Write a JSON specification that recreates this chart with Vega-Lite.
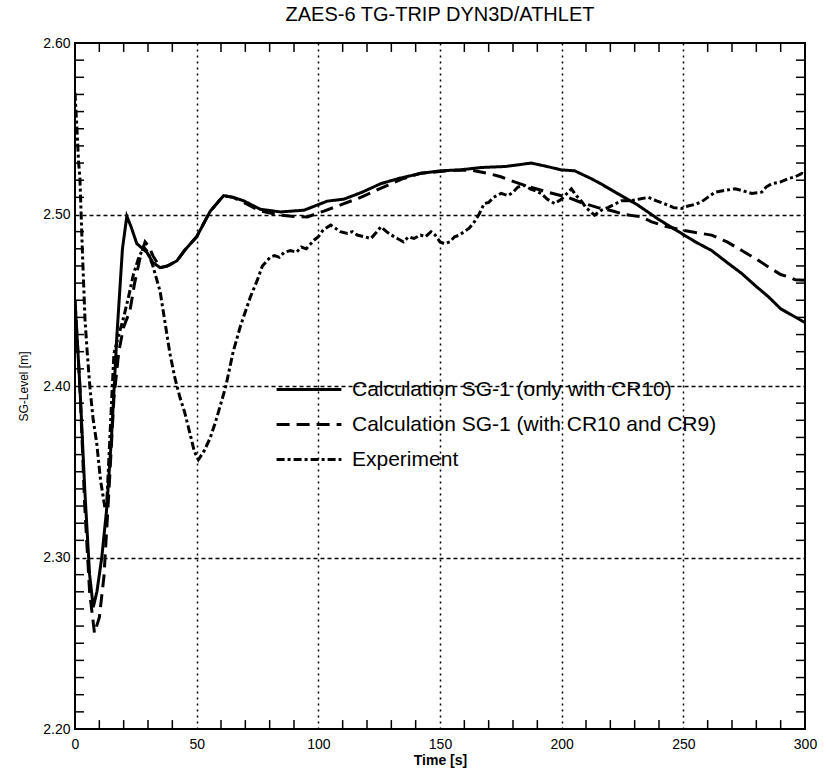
{
  "$schema": "https://vega.github.io/schema/vega-lite/v6.json",
  "autosize": "none",
  "width": 730,
  "height": 686,
  "padding": {"left": 75, "top": 43, "right": 21, "bottom": 47},
  "background": "white",
  "title": {"text": "ZAES-6  TG-TRIP  DYN3D/ATHLET", "fontSize": 20, "fontWeight": "normal", "font": "Liberation Sans", "color": "black", "anchor": "middle", "offset": 11},
  "config": {
    "view": {"stroke": "black", "strokeWidth": 2},
    "axis": {"labelFont": "Liberation Sans", "titleFont": "Liberation Sans", "labelColor": "black", "titleColor": "black", "tickColor": "black", "domainColor": "black", "labelOverlap": false, "labelFlush": false}
  },
  "layer": [
    {
      "data": {"values": [
    {"s": "Calculation SG-1 (only with CR10)", "t": 0, "v": 2.45},
    {"s": "Calculation SG-1 (only with CR10)", "t": 2, "v": 2.40},
    {"s": "Calculation SG-1 (only with CR10)", "t": 4, "v": 2.34},
    {"s": "Calculation SG-1 (only with CR10)", "t": 6, "v": 2.29},
    {"s": "Calculation SG-1 (only with CR10)", "t": 7.5, "v": 2.271},
    {"s": "Calculation SG-1 (only with CR10)", "t": 9, "v": 2.28},
    {"s": "Calculation SG-1 (only with CR10)", "t": 11, "v": 2.30},
    {"s": "Calculation SG-1 (only with CR10)", "t": 13, "v": 2.328},
    {"s": "Calculation SG-1 (only with CR10)", "t": 15, "v": 2.37},
    {"s": "Calculation SG-1 (only with CR10)", "t": 17.2, "v": 2.429},
    {"s": "Calculation SG-1 (only with CR10)", "t": 19.5, "v": 2.48},
    {"s": "Calculation SG-1 (only with CR10)", "t": 21.3, "v": 2.499},
    {"s": "Calculation SG-1 (only with CR10)", "t": 23, "v": 2.493},
    {"s": "Calculation SG-1 (only with CR10)", "t": 25.4, "v": 2.483},
    {"s": "Calculation SG-1 (only with CR10)", "t": 29.5, "v": 2.478},
    {"s": "Calculation SG-1 (only with CR10)", "t": 32, "v": 2.472},
    {"s": "Calculation SG-1 (only with CR10)", "t": 35, "v": 2.469},
    {"s": "Calculation SG-1 (only with CR10)", "t": 38, "v": 2.470},
    {"s": "Calculation SG-1 (only with CR10)", "t": 41.9, "v": 2.473},
    {"s": "Calculation SG-1 (only with CR10)", "t": 45, "v": 2.479},
    {"s": "Calculation SG-1 (only with CR10)", "t": 50, "v": 2.487},
    {"s": "Calculation SG-1 (only with CR10)", "t": 55.6, "v": 2.502},
    {"s": "Calculation SG-1 (only with CR10)", "t": 61.1, "v": 2.511},
    {"s": "Calculation SG-1 (only with CR10)", "t": 65, "v": 2.510},
    {"s": "Calculation SG-1 (only with CR10)", "t": 69.3, "v": 2.508},
    {"s": "Calculation SG-1 (only with CR10)", "t": 76.2, "v": 2.503},
    {"s": "Calculation SG-1 (only with CR10)", "t": 84.5, "v": 2.5015},
    {"s": "Calculation SG-1 (only with CR10)", "t": 94.1, "v": 2.5025},
    {"s": "Calculation SG-1 (only with CR10)", "t": 103.7, "v": 2.5078},
    {"s": "Calculation SG-1 (only with CR10)", "t": 110.6, "v": 2.509},
    {"s": "Calculation SG-1 (only with CR10)", "t": 118, "v": 2.513},
    {"s": "Calculation SG-1 (only with CR10)", "t": 125.7, "v": 2.518},
    {"s": "Calculation SG-1 (only with CR10)", "t": 133, "v": 2.521},
    {"s": "Calculation SG-1 (only with CR10)", "t": 142.2, "v": 2.524},
    {"s": "Calculation SG-1 (only with CR10)", "t": 150.4, "v": 2.5255},
    {"s": "Calculation SG-1 (only with CR10)", "t": 158, "v": 2.526},
    {"s": "Calculation SG-1 (only with CR10)", "t": 166.9, "v": 2.5274},
    {"s": "Calculation SG-1 (only with CR10)", "t": 177, "v": 2.528},
    {"s": "Calculation SG-1 (only with CR10)", "t": 187.5, "v": 2.530},
    {"s": "Calculation SG-1 (only with CR10)", "t": 194, "v": 2.528},
    {"s": "Calculation SG-1 (only with CR10)", "t": 199.8, "v": 2.526},
    {"s": "Calculation SG-1 (only with CR10)", "t": 205.3, "v": 2.5255},
    {"s": "Calculation SG-1 (only with CR10)", "t": 212, "v": 2.521},
    {"s": "Calculation SG-1 (only with CR10)", "t": 216, "v": 2.518},
    {"s": "Calculation SG-1 (only with CR10)", "t": 222, "v": 2.513},
    {"s": "Calculation SG-1 (only with CR10)", "t": 231.4, "v": 2.5054},
    {"s": "Calculation SG-1 (only with CR10)", "t": 240, "v": 2.497},
    {"s": "Calculation SG-1 (only with CR10)", "t": 249.3, "v": 2.4889},
    {"s": "Calculation SG-1 (only with CR10)", "t": 255, "v": 2.484},
    {"s": "Calculation SG-1 (only with CR10)", "t": 261.6, "v": 2.479},
    {"s": "Calculation SG-1 (only with CR10)", "t": 268, "v": 2.472},
    {"s": "Calculation SG-1 (only with CR10)", "t": 274, "v": 2.4656},
    {"s": "Calculation SG-1 (only with CR10)", "t": 280, "v": 2.458},
    {"s": "Calculation SG-1 (only with CR10)", "t": 285, "v": 2.452},
    {"s": "Calculation SG-1 (only with CR10)", "t": 290, "v": 2.445},
    {"s": "Calculation SG-1 (only with CR10)", "t": 295, "v": 2.441},
    {"s": "Calculation SG-1 (only with CR10)", "t": 300, "v": 2.437},

    {"s": "Calculation SG-1 (with CR10 and CR9)", "t": 0, "v": 2.45},
    {"s": "Calculation SG-1 (with CR10 and CR9)", "t": 2, "v": 2.40},
    {"s": "Calculation SG-1 (with CR10 and CR9)", "t": 4, "v": 2.33},
    {"s": "Calculation SG-1 (with CR10 and CR9)", "t": 6, "v": 2.28},
    {"s": "Calculation SG-1 (with CR10 and CR9)", "t": 8, "v": 2.256},
    {"s": "Calculation SG-1 (with CR10 and CR9)", "t": 10, "v": 2.265},
    {"s": "Calculation SG-1 (with CR10 and CR9)", "t": 11.9, "v": 2.289},
    {"s": "Calculation SG-1 (with CR10 and CR9)", "t": 14, "v": 2.34},
    {"s": "Calculation SG-1 (with CR10 and CR9)", "t": 16, "v": 2.393},
    {"s": "Calculation SG-1 (with CR10 and CR9)", "t": 18, "v": 2.42},
    {"s": "Calculation SG-1 (with CR10 and CR9)", "t": 19.9, "v": 2.434},
    {"s": "Calculation SG-1 (with CR10 and CR9)", "t": 22.6, "v": 2.444},
    {"s": "Calculation SG-1 (with CR10 and CR9)", "t": 24.5, "v": 2.46},
    {"s": "Calculation SG-1 (with CR10 and CR9)", "t": 26.8, "v": 2.475},
    {"s": "Calculation SG-1 (with CR10 and CR9)", "t": 28.8, "v": 2.484},
    {"s": "Calculation SG-1 (with CR10 and CR9)", "t": 30.5, "v": 2.481},
    {"s": "Calculation SG-1 (with CR10 and CR9)", "t": 32, "v": 2.476},
    {"s": "Calculation SG-1 (with CR10 and CR9)", "t": 35, "v": 2.469},
    {"s": "Calculation SG-1 (with CR10 and CR9)", "t": 38, "v": 2.470},
    {"s": "Calculation SG-1 (with CR10 and CR9)", "t": 41.9, "v": 2.473},
    {"s": "Calculation SG-1 (with CR10 and CR9)", "t": 45, "v": 2.479},
    {"s": "Calculation SG-1 (with CR10 and CR9)", "t": 50, "v": 2.487},
    {"s": "Calculation SG-1 (with CR10 and CR9)", "t": 55.6, "v": 2.502},
    {"s": "Calculation SG-1 (with CR10 and CR9)", "t": 61.1, "v": 2.511},
    {"s": "Calculation SG-1 (with CR10 and CR9)", "t": 65, "v": 2.510},
    {"s": "Calculation SG-1 (with CR10 and CR9)", "t": 69.3, "v": 2.507},
    {"s": "Calculation SG-1 (with CR10 and CR9)", "t": 76.2, "v": 2.502},
    {"s": "Calculation SG-1 (with CR10 and CR9)", "t": 84.5, "v": 2.4996},
    {"s": "Calculation SG-1 (with CR10 and CR9)", "t": 90, "v": 2.4988},
    {"s": "Calculation SG-1 (with CR10 and CR9)", "t": 95.5, "v": 2.4986},
    {"s": "Calculation SG-1 (with CR10 and CR9)", "t": 102.3, "v": 2.502},
    {"s": "Calculation SG-1 (with CR10 and CR9)", "t": 110, "v": 2.506},
    {"s": "Calculation SG-1 (with CR10 and CR9)", "t": 117.4, "v": 2.510},
    {"s": "Calculation SG-1 (with CR10 and CR9)", "t": 128.4, "v": 2.517},
    {"s": "Calculation SG-1 (with CR10 and CR9)", "t": 135, "v": 2.521},
    {"s": "Calculation SG-1 (with CR10 and CR9)", "t": 142, "v": 2.524},
    {"s": "Calculation SG-1 (with CR10 and CR9)", "t": 150, "v": 2.525},
    {"s": "Calculation SG-1 (with CR10 and CR9)", "t": 156, "v": 2.5258},
    {"s": "Calculation SG-1 (with CR10 and CR9)", "t": 162.8, "v": 2.5259},
    {"s": "Calculation SG-1 (with CR10 and CR9)", "t": 169.6, "v": 2.524},
    {"s": "Calculation SG-1 (with CR10 and CR9)", "t": 175, "v": 2.522},
    {"s": "Calculation SG-1 (with CR10 and CR9)", "t": 180.6, "v": 2.519},
    {"s": "Calculation SG-1 (with CR10 and CR9)", "t": 187, "v": 2.516},
    {"s": "Calculation SG-1 (with CR10 and CR9)", "t": 194.4, "v": 2.513},
    {"s": "Calculation SG-1 (with CR10 and CR9)", "t": 202.6, "v": 2.510},
    {"s": "Calculation SG-1 (with CR10 and CR9)", "t": 208, "v": 2.507},
    {"s": "Calculation SG-1 (with CR10 and CR9)", "t": 214.9, "v": 2.504},
    {"s": "Calculation SG-1 (with CR10 and CR9)", "t": 221, "v": 2.502},
    {"s": "Calculation SG-1 (with CR10 and CR9)", "t": 226, "v": 2.500},
    {"s": "Calculation SG-1 (with CR10 and CR9)", "t": 232.8, "v": 2.4986},
    {"s": "Calculation SG-1 (with CR10 and CR9)", "t": 237, "v": 2.4957},
    {"s": "Calculation SG-1 (with CR10 and CR9)", "t": 243, "v": 2.493},
    {"s": "Calculation SG-1 (with CR10 and CR9)", "t": 249.3, "v": 2.491},
    {"s": "Calculation SG-1 (with CR10 and CR9)", "t": 255, "v": 2.4895},
    {"s": "Calculation SG-1 (with CR10 and CR9)", "t": 261.6, "v": 2.488},
    {"s": "Calculation SG-1 (with CR10 and CR9)", "t": 268, "v": 2.484},
    {"s": "Calculation SG-1 (with CR10 and CR9)", "t": 274, "v": 2.479},
    {"s": "Calculation SG-1 (with CR10 and CR9)", "t": 280, "v": 2.474},
    {"s": "Calculation SG-1 (with CR10 and CR9)", "t": 285, "v": 2.4694},
    {"s": "Calculation SG-1 (with CR10 and CR9)", "t": 290, "v": 2.465},
    {"s": "Calculation SG-1 (with CR10 and CR9)", "t": 293.2, "v": 2.4636},
    {"s": "Calculation SG-1 (with CR10 and CR9)", "t": 296, "v": 2.462},
    {"s": "Calculation SG-1 (with CR10 and CR9)", "t": 300, "v": 2.4616},

    {"s": "Experiment", "t": 0, "v": 2.571},
    {"s": "Experiment", "t": 0.8, "v": 2.55},
    {"s": "Experiment", "t": 1.5, "v": 2.53},
    {"s": "Experiment", "t": 2, "v": 2.522},
    {"s": "Experiment", "t": 3, "v": 2.48},
    {"s": "Experiment", "t": 4.1, "v": 2.439},
    {"s": "Experiment", "t": 5, "v": 2.42},
    {"s": "Experiment", "t": 6.2, "v": 2.398},
    {"s": "Experiment", "t": 7.5, "v": 2.38},
    {"s": "Experiment", "t": 8.9, "v": 2.367},
    {"s": "Experiment", "t": 10.5, "v": 2.345},
    {"s": "Experiment", "t": 12.3, "v": 2.329},
    {"s": "Experiment", "t": 13, "v": 2.33},
    {"s": "Experiment", "t": 14, "v": 2.36},
    {"s": "Experiment", "t": 15, "v": 2.39},
    {"s": "Experiment", "t": 16, "v": 2.419},
    {"s": "Experiment", "t": 18, "v": 2.43},
    {"s": "Experiment", "t": 20, "v": 2.44},
    {"s": "Experiment", "t": 22, "v": 2.452},
    {"s": "Experiment", "t": 24, "v": 2.465},
    {"s": "Experiment", "t": 26, "v": 2.474},
    {"s": "Experiment", "t": 28.2, "v": 2.481},
    {"s": "Experiment", "t": 30, "v": 2.478},
    {"s": "Experiment", "t": 32, "v": 2.47},
    {"s": "Experiment", "t": 35, "v": 2.455},
    {"s": "Experiment", "t": 37, "v": 2.437},
    {"s": "Experiment", "t": 39, "v": 2.419},
    {"s": "Experiment", "t": 41, "v": 2.405},
    {"s": "Experiment", "t": 43.2, "v": 2.393},
    {"s": "Experiment", "t": 45, "v": 2.385},
    {"s": "Experiment", "t": 47.3, "v": 2.372},
    {"s": "Experiment", "t": 49, "v": 2.362},
    {"s": "Experiment", "t": 50.7, "v": 2.357},
    {"s": "Experiment", "t": 53, "v": 2.362},
    {"s": "Experiment", "t": 55.5, "v": 2.3695},
    {"s": "Experiment", "t": 57.5, "v": 2.378},
    {"s": "Experiment", "t": 59.6, "v": 2.388},
    {"s": "Experiment", "t": 62, "v": 2.40},
    {"s": "Experiment", "t": 65, "v": 2.42},
    {"s": "Experiment", "t": 68, "v": 2.435},
    {"s": "Experiment", "t": 72.1, "v": 2.452},
    {"s": "Experiment", "t": 75, "v": 2.462},
    {"s": "Experiment", "t": 77, "v": 2.47},
    {"s": "Experiment", "t": 80.3, "v": 2.4752},
    {"s": "Experiment", "t": 82, "v": 2.476},
    {"s": "Experiment", "t": 84, "v": 2.475},
    {"s": "Experiment", "t": 86, "v": 2.478},
    {"s": "Experiment", "t": 88.6, "v": 2.479},
    {"s": "Experiment", "t": 91, "v": 2.478},
    {"s": "Experiment", "t": 93, "v": 2.481},
    {"s": "Experiment", "t": 95, "v": 2.480},
    {"s": "Experiment", "t": 98.2, "v": 2.485},
    {"s": "Experiment", "t": 100, "v": 2.487},
    {"s": "Experiment", "t": 102, "v": 2.491},
    {"s": "Experiment", "t": 105.1, "v": 2.4938},
    {"s": "Experiment", "t": 107, "v": 2.492},
    {"s": "Experiment", "t": 109, "v": 2.490},
    {"s": "Experiment", "t": 112, "v": 2.489},
    {"s": "Experiment", "t": 114, "v": 2.490},
    {"s": "Experiment", "t": 116, "v": 2.488},
    {"s": "Experiment", "t": 119, "v": 2.487},
    {"s": "Experiment", "t": 121.6, "v": 2.486},
    {"s": "Experiment", "t": 123.5, "v": 2.489},
    {"s": "Experiment", "t": 125.7, "v": 2.4928},
    {"s": "Experiment", "t": 128, "v": 2.490},
    {"s": "Experiment", "t": 130, "v": 2.488},
    {"s": "Experiment", "t": 132.5, "v": 2.486},
    {"s": "Experiment", "t": 135, "v": 2.484},
    {"s": "Experiment", "t": 137, "v": 2.487},
    {"s": "Experiment", "t": 139.3, "v": 2.486},
    {"s": "Experiment", "t": 142, "v": 2.488},
    {"s": "Experiment", "t": 144, "v": 2.487},
    {"s": "Experiment", "t": 146.3, "v": 2.490},
    {"s": "Experiment", "t": 148, "v": 2.488},
    {"s": "Experiment", "t": 150, "v": 2.484},
    {"s": "Experiment", "t": 151.8, "v": 2.483},
    {"s": "Experiment", "t": 154, "v": 2.484},
    {"s": "Experiment", "t": 156, "v": 2.487},
    {"s": "Experiment", "t": 158, "v": 2.488},
    {"s": "Experiment", "t": 160, "v": 2.490},
    {"s": "Experiment", "t": 162, "v": 2.492},
    {"s": "Experiment", "t": 164.1, "v": 2.4957},
    {"s": "Experiment", "t": 166, "v": 2.500},
    {"s": "Experiment", "t": 168.2, "v": 2.5064},
    {"s": "Experiment", "t": 170, "v": 2.507},
    {"s": "Experiment", "t": 172, "v": 2.510},
    {"s": "Experiment", "t": 175.1, "v": 2.5123},
    {"s": "Experiment", "t": 178, "v": 2.511},
    {"s": "Experiment", "t": 180, "v": 2.513},
    {"s": "Experiment", "t": 182, "v": 2.516},
    {"s": "Experiment", "t": 184.7, "v": 2.517},
    {"s": "Experiment", "t": 187, "v": 2.515},
    {"s": "Experiment", "t": 189, "v": 2.514},
    {"s": "Experiment", "t": 191.6, "v": 2.5123},
    {"s": "Experiment", "t": 194, "v": 2.509},
    {"s": "Experiment", "t": 197.1, "v": 2.5064},
    {"s": "Experiment", "t": 200, "v": 2.509},
    {"s": "Experiment", "t": 202, "v": 2.512},
    {"s": "Experiment", "t": 204, "v": 2.515},
    {"s": "Experiment", "t": 206, "v": 2.511},
    {"s": "Experiment", "t": 208, "v": 2.508},
    {"s": "Experiment", "t": 210, "v": 2.504},
    {"s": "Experiment", "t": 213.5, "v": 2.4996},
    {"s": "Experiment", "t": 216.3, "v": 2.5025},
    {"s": "Experiment", "t": 219, "v": 2.504},
    {"s": "Experiment", "t": 221.8, "v": 2.506},
    {"s": "Experiment", "t": 224.6, "v": 2.508},
    {"s": "Experiment", "t": 228, "v": 2.508},
    {"s": "Experiment", "t": 232, "v": 2.509},
    {"s": "Experiment", "t": 235.6, "v": 2.510},
    {"s": "Experiment", "t": 239, "v": 2.508},
    {"s": "Experiment", "t": 243.8, "v": 2.5054},
    {"s": "Experiment", "t": 246, "v": 2.504},
    {"s": "Experiment", "t": 249.3, "v": 2.5035},
    {"s": "Experiment", "t": 252, "v": 2.505},
    {"s": "Experiment", "t": 255, "v": 2.506},
    {"s": "Experiment", "t": 257.5, "v": 2.5074},
    {"s": "Experiment", "t": 260, "v": 2.510},
    {"s": "Experiment", "t": 263, "v": 2.513},
    {"s": "Experiment", "t": 267, "v": 2.514},
    {"s": "Experiment", "t": 271.3, "v": 2.515},
    {"s": "Experiment", "t": 274, "v": 2.514},
    {"s": "Experiment", "t": 278.1, "v": 2.5123},
    {"s": "Experiment", "t": 282.2, "v": 2.513},
    {"s": "Experiment", "t": 284, "v": 2.516},
    {"s": "Experiment", "t": 286.4, "v": 2.518},
    {"s": "Experiment", "t": 290, "v": 2.519},
    {"s": "Experiment", "t": 293.2, "v": 2.521},
    {"s": "Experiment", "t": 296, "v": 2.522},
    {"s": "Experiment", "t": 298.7, "v": 2.524},
    {"s": "Experiment", "t": 300, "v": 2.523}
      ]},
      "mark": {"type": "line", "color": "black", "clip": true},
      "encoding": {
        "x": {"field": "t", "type": "quantitative", "scale": {"domain": [0, 300], "nice": false, "zero": false},
          "axis": {"orient": "bottom", "title": "Time [s]", "titleFontSize": 14, "titleFontWeight": "bold", "titlePadding": 2, "labelFontSize": 14, "labelPadding": 8, "ticks": false, "domain": false,
            "values": [0, 50, 100, 150, 200, 250, 300], "format": "d",
            "grid": true, "gridColor": "black", "gridWidth": 1.5, "gridDash": [2, 4],
            "gridOpacity": {"condition": {"test": "datum.value > 0 && datum.value < 300", "value": 1}, "value": 0}}},
        "y": {"field": "v", "type": "quantitative", "scale": {"domain": [2.2, 2.6], "nice": false, "zero": false},
          "axis": {"orient": "left", "title": "SG-Level [m]", "titleFontSize": 12, "titleFontWeight": "normal", "titlePadding": 12, "labelFontSize": 14, "labelPadding": 5, "ticks": false, "domain": false,
            "values": [2.2, 2.3, 2.4, 2.5, 2.6], "format": ".2f",
            "grid": true, "gridColor": "black", "gridWidth": 1.5, "gridDash": [4, 3],
            "gridOpacity": {"condition": {"test": "datum.value > 2.21 && datum.value < 2.59", "value": 1}, "value": 0}}},
        "strokeDash": {"field": "s", "type": "nominal",
          "scale": {"domain": ["Calculation SG-1 (only with CR10)", "Calculation SG-1 (with CR10 and CR9)", "Experiment"], "range": [[1, 0], [13, 7], [8, 3, 3, 3]]},
          "legend": {"title": null, "orient": "none", "legendX": 200, "legendY": 329, "padding": 0, "symbolType": "stroke", "symbolSize": 4200, "symbolStrokeWidth": 3, "symbolStrokeColor": "black", "labelFontSize": 21, "labelFont": "Liberation Sans", "labelColor": "black", "labelOffset": 9, "rowPadding": 0, "clipHeight": 35, "labelLimit": 500}},
        "strokeWidth": {"field": "s", "type": "nominal",
          "scale": {"domain": ["Calculation SG-1 (only with CR10)", "Calculation SG-1 (with CR10 and CR9)", "Experiment"], "range": [3, 3, 4]},
          "legend": null}
      }
    },
    {
      "data": {"values": [{"t": 10}, {"t": 20}, {"t": 30}, {"t": 40}, {"t": 60}, {"t": 70}, {"t": 80}, {"t": 90}, {"t": 110}, {"t": 120}, {"t": 130}, {"t": 140}, {"t": 160}, {"t": 170}, {"t": 180}, {"t": 190}, {"t": 210}, {"t": 220}, {"t": 230}, {"t": 240}, {"t": 260}, {"t": 270}, {"t": 280}, {"t": 290}]},
      "layer": [
        {"mark": {"type": "rule", "color": "black", "strokeWidth": 1.5},
         "encoding": {"x": {"field": "t", "type": "quantitative"}, "y": {"datum": 2.2, "type": "quantitative"}, "y2": {"datum": 2.2052}}},
        {"mark": {"type": "rule", "color": "black", "strokeWidth": 1.5},
         "encoding": {"x": {"field": "t", "type": "quantitative"}, "y": {"datum": 2.6, "type": "quantitative"}, "y2": {"datum": 2.5948}}}
      ]
    },
    {
      "data": {"values": [{"v": 2.21}, {"v": 2.22}, {"v": 2.23}, {"v": 2.24}, {"v": 2.25}, {"v": 2.26}, {"v": 2.27}, {"v": 2.28}, {"v": 2.29}, {"v": 2.31}, {"v": 2.32}, {"v": 2.33}, {"v": 2.34}, {"v": 2.35}, {"v": 2.36}, {"v": 2.37}, {"v": 2.38}, {"v": 2.39}, {"v": 2.41}, {"v": 2.42}, {"v": 2.43}, {"v": 2.44}, {"v": 2.45}, {"v": 2.46}, {"v": 2.47}, {"v": 2.48}, {"v": 2.49}, {"v": 2.51}, {"v": 2.52}, {"v": 2.53}, {"v": 2.54}, {"v": 2.55}, {"v": 2.56}, {"v": 2.57}, {"v": 2.58}, {"v": 2.59}]},
      "layer": [
        {"mark": {"type": "rule", "color": "black", "strokeWidth": 1.5},
         "encoding": {"y": {"field": "v", "type": "quantitative"}, "x": {"datum": 0, "type": "quantitative"}, "x2": {"datum": 3.7}}},
        {"mark": {"type": "rule", "color": "black", "strokeWidth": 1.5},
         "encoding": {"y": {"field": "v", "type": "quantitative"}, "x": {"datum": 300, "type": "quantitative"}, "x2": {"datum": 296.3}}}
      ]
    }
  ]
}
